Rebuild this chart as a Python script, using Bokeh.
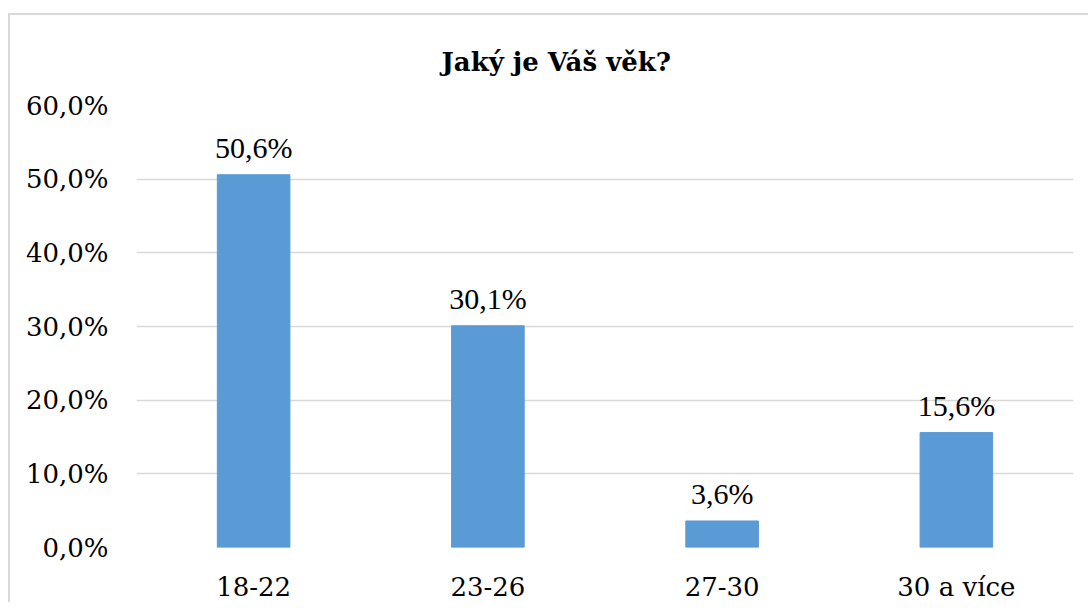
from bokeh.plotting import figure
from bokeh.models import ColumnDataSource, LabelSet, FixedTicker, Range1d
from bokeh.embed import file_html
from bokeh.resources import INLINE

categories = ["18-22", "23-26", "27-30", "30 a více"]
values = [50.6, 30.1, 3.6, 15.6]
value_labels = ["50,6%", "30,1%", "3,6%", "15,6%"]
y_ticks = [0, 10, 20, 30, 40, 50, 60]
y_tick_labels = ["0,0%", "10,0%", "20,0%", "30,0%", "40,0%", "50,0%", "60,0%"]
title_text = "Jaký je Váš věk?"

FONT = "DejaVu Serif"
GRID = "#d9d9d9"

src = ColumnDataSource(dict(cat=categories, val=values, lab=value_labels))

p = figure(x_range=categories, y_range=Range1d(0, 60),
           width=1080, height=589, output_backend="svg", toolbar_location=None,
           min_border_left=126, min_border_right=17, min_border_top=90, min_border_bottom=57,
           title=title_text)
p.styles = {"border-top": "2px solid #d9d9d9", "border-left": "2px solid #d9d9d9",
            "margin-top": "13px", "margin-left": "8px"}

p.title.text_font = FONT
p.title.text_font_size = "26px"
p.title.text_font_style = "bold"
p.title.text_color = "black"
p.title.align = "left"
p.title.offset = 305
p.title.vertical_align = "top"
p.title.standoff = 54

p.vbar(x="cat", top="val", width=0.31, source=src, fill_color="#5B9BD5",
       line_color="#5B9BD5")

labels = LabelSet(x="cat", y="val", text="lab", source=src, text_align="center",
                  text_baseline="alphabetic", y_offset=17, text_font=FONT,
                  text_font_size="30px", text_color="black")
p.add_layout(labels)

p.outline_line_color = None
p.xgrid.grid_line_color = None
p.ygrid.grid_line_color = GRID
p.ygrid.grid_line_width = 1.5
p.yaxis.ticker = FixedTicker(ticks=y_ticks)
p.yaxis.major_label_overrides = {t: l for t, l in zip(y_ticks, y_tick_labels)}

for ax in (p.xaxis, p.yaxis):
    ax.axis_line_color = None
    ax.major_tick_line_color = None
    ax.minor_tick_line_color = None
    ax.major_label_text_font = FONT
    ax.major_label_text_font_size = "26px"
    ax.major_label_text_color = "black"
p.yaxis.major_label_standoff = 22
p.xaxis.major_label_standoff = 18

open("out.html", "w").write(file_html(p, INLINE))
